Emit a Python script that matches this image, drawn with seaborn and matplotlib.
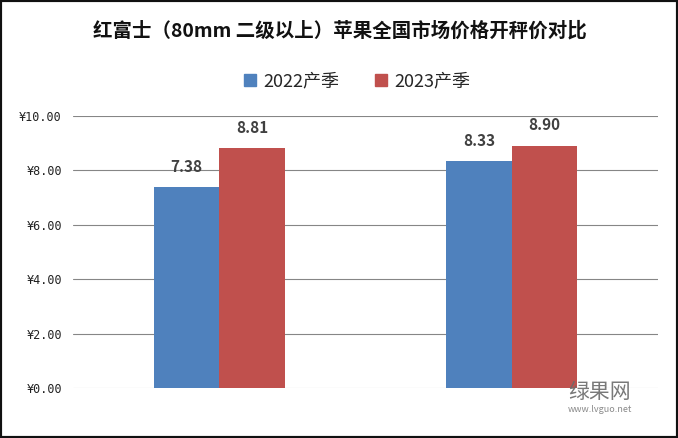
import matplotlib
matplotlib.use("Agg")
import matplotlib.pyplot as plt
import seaborn as sns
import pandas as pd
from matplotlib.patches import Rectangle

categories = ["组一", "组二"]
seasons = ["2022产季", "2023产季"]
values_2022 = [7.38, 8.33]
values_2023 = [8.81, 8.90]
yticks = [0, 2, 4, 6, 8, 10]
title = "红富士（80mm 二级以上）苹果全国市场价格开秤价对比"
colors = ["#4F81BD", "#C0504D"]

df = pd.DataFrame({
    "category": categories * 2,
    "season": [seasons[0]] * len(categories) + [seasons[1]] * len(categories),
    "price": values_2022 + values_2023,
})

sns.set_theme(style="white")
plt.rcParams["font.family"] = ["Noto Sans CJK SC", "DejaVu Sans"]

fig = plt.figure(figsize=(6.78, 4.38), dpi=100)
ax = fig.add_axes([73 / 678, 1 - 388 / 438, 585 / 678, 272 / 438])

sns.barplot(data=df, x="category", y="price", hue="season", palette=colors,
            width=0.448, gap=0, ax=ax, legend=False, saturation=1, errorbar=None,
            linewidth=0)

ax.set_ylim(0, 10)
ax.set_xlim(-0.5, 1.5)
ax.set_yticks(yticks)
ax.set_yticklabels([f"¥{v:.2f}" for v in yticks], fontsize=8.5, color="#222222",
                   family=["DejaVu Sans Mono"])
ax.set_xticks([])
ax.set_xlabel("")
ax.set_ylabel("")
for s in ax.spines.values():
    s.set_visible(False)
ax.tick_params(axis="y", length=0, pad=8)
for y in yticks:
    ax.axhline(y, color="#868686" if y > 0 else "#c8c8c8", lw=0.8, zorder=0)

for cont in ax.containers:
    ax.bar_label(cont, labels=[f"{v:.2f}" for v in cont.datavalues], padding=9,
                 fontsize=11, fontweight="bold", color="#404040")

fig.text(340 / 678, 1 - 31 / 438, title, ha="center", va="center",
         fontsize=14, fontweight="bold", color="#111111")

# legend
handles = [Rectangle((0, 0), 1, 1, color=c) for c in colors]
fig.legend(handles, seasons, loc="center", bbox_to_anchor=(357 / 678, 1 - 81 / 438),
           ncol=2, frameon=False, fontsize=13, handlelength=0.65, handleheight=0.65,
           handletextpad=0.4, columnspacing=2.0)

# watermark
fig.text(568 / 678, 1 - 392 / 438, "绿果网", fontsize=15, color="#6a6a6a",
         ha="left", va="center", alpha=0.9)
fig.text(568 / 678, 1 - 410 / 438, "www.lvguo.net", fontsize=6.5, color="#8a8a8a",
         ha="left", va="center")

# frame
fig.patches.append(Rectangle((0, 0), 1, 1, transform=fig.transFigure, fill=False,
                             edgecolor="#111111", lw=3, zorder=10))

fig.savefig("out.png", dpi=100)
